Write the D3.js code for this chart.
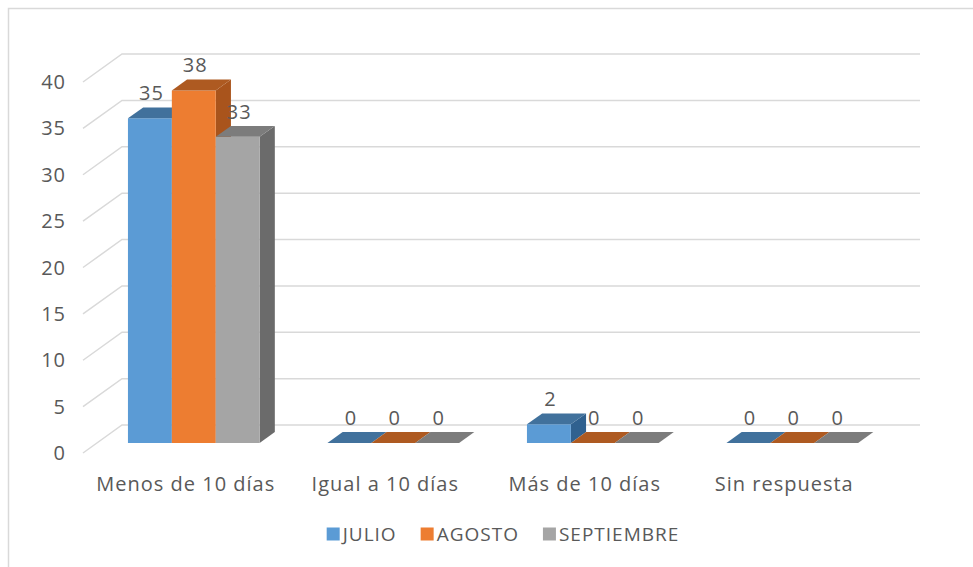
<!DOCTYPE html>
<html>
<head>
<meta charset="utf-8">
<script src="https://cdn.jsdelivr.net/npm/d3@7"></script>
<style>
  body { margin: 0; background: #fff; }
  text { font-family: "Open Sans", sans-serif; fill: #595959; letter-spacing: 1px; }
</style>
</head>
<body>
<script>
var categories = ["Menos de 10 días", "Igual a 10 días", "Más de 10 días", "Sin respuesta"];
var series = ["JULIO", "AGOSTO", "SEPTIEMBRE"];
var julio = [35, 0, 2, 0];
var agosto = [38, 0, 0, 0];
var septiembre = [33, 0, 0, 0];
var values = [julio, agosto, septiembre];

var frontColor = ["#5b9bd5", "#ed7d31", "#a5a5a5"],
    topColor = ["#41719c", "#ae5a21", "#7c7c7c"],
    sideColor = ["#30618f", "#a9541c", "#6b6b6b"];

var width = 973, height = 567;
var svg = d3.select("body").append("svg")
        .attr("width", width)
        .attr("height", height);

// chart border
svg.append("rect")
        .attr("x", 8.5).attr("y", 8.5)
        .attr("width", width + 10).attr("height", height + 10)
        .attr("fill", "none")
        .attr("stroke", "#d9d9d9")
        .attr("stroke-width", 1.5);

// oblique 3d: depth d in [0,1] shifts right/up
var depthX = 39, depthY = 28, baseY = 453;
var wallLeft = 83, wallRight = 881;
var y = d3.scaleLinear().domain([0, 40]).range([0, 371]);

function P(x, v, d) {
    return [x + d * depthX, baseY - y(v) - d * depthY];
}

var x0 = d3.scaleBand().domain(categories).range([80, 878])
        .paddingInner(0.34).paddingOuter(0.17);
var x1 = d3.scaleBand().domain(series).range([0, x0.bandwidth()]);

// gridlines: side wall diagonal + back wall
var ticks = y.ticks(8);
var grid = svg.append("g").attr("stroke", "#d9d9d9").attr("stroke-width", 1.5).attr("fill", "none");
ticks.forEach(function (t) {
    var a = P(wallLeft, t, 0), b = P(wallLeft, t, 1), c = P(wallRight, t, 1);
    grid.append("path").attr("d", "M" + a + "L" + b + "L" + c);
});

// tick labels
svg.append("g").selectAll("text")
        .data(ticks)
        .enter().append("text")
        .attr("x", 66)
        .attr("y", function (d) { return P(wallLeft, d, 0)[1]; })
        .attr("dy", "0.35em")
        .attr("text-anchor", "end")
        .attr("font-size", 20)
        .text(function (d) { return d; });

// bars
var d0 = 0.36, d1 = 0.75;
function poly(pts) { return "M" + pts.join("L") + "Z"; }

var bars = svg.append("g");
categories.forEach(function (cat, ci) {
    series.forEach(function (s, si) {
        var v = values[si][ci];
        var xf = x0(cat) + x1(s), w = x1.bandwidth();
        var g = bars.append("g");
        g.append("path")
                .attr("d", poly([P(xf + w, 0, d0), P(xf + w, 0, d1), P(xf + w, v, d1), P(xf + w, v, d0)]))
                .attr("fill", sideColor[si]);
        g.append("path")
                .attr("d", poly([P(xf, 0, d0), P(xf + w, 0, d0), P(xf + w, v, d0), P(xf, v, d0)]))
                .attr("fill", frontColor[si]);
        g.append("path")
                .attr("d", poly([P(xf, v, d0), P(xf + w, v, d0), P(xf + w, v, d1), P(xf, v, d1)]))
                .attr("fill", topColor[si]);
    });
});

// value labels (drawn over bars)
var labels = svg.append("g");
categories.forEach(function (cat, ci) {
    series.forEach(function (s, si) {
        var v = values[si][ci];
        var xf = x0(cat) + x1(s), w = x1.bandwidth();
        var p = P(xf + w / 2, v, d0);
        labels.append("text")
                .attr("x", p[0] + 1.5)
                .attr("y", p[1] - 18)
                .attr("text-anchor", "middle")
                .attr("font-size", 20)
                .text(v);
    });
});

// category labels
svg.append("g").selectAll("text")
        .data(categories)
        .enter().append("text")
        .attr("x", function (d) { return x0(d) + x0.bandwidth() / 2 + 6; })
        .attr("y", 484)
        .attr("dy", "0.35em")
        .attr("text-anchor", "middle")
        .attr("font-size", 20)
        .text(function (d) { return d; });

// legend
var legend = svg.append("g");
var lx = 0;
series.forEach(function (s, i) {
    var item = legend.append("g").attr("transform", "translate(" + lx + ",0)");
    item.append("rect")
            .attr("x", 0).attr("y", -6.5)
            .attr("width", 13).attr("height", 13)
            .attr("fill", frontColor[i]);
    var t = item.append("text")
            .attr("x", 16).attr("y", 0)
            .attr("dy", "0.35em")
            .attr("font-size", 19)
            .text(s);
    lx += 16 + t.node().getComputedTextLength() + 24;
});
lx -= 24;
legend.attr("transform", "translate(" + (503 - lx / 2) + ",534)");
</script>
</body>
</html>
